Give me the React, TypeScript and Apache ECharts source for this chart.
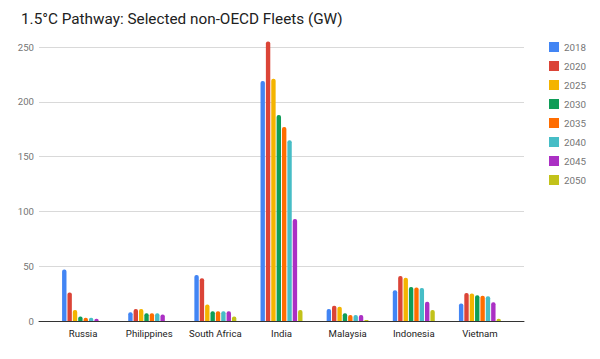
import React, { useEffect, useRef } from "react";
import * as echarts from "echarts";

const categories = ["Russia", "Philippines", "South Africa", "India", "Malaysia", "Indonesia", "Vietnam"];
const years = ["2018", "2020", "2025", "2030", "2035", "2040", "2045", "2050"];
const colors = ["#4285f4", "#db4437", "#f4b400", "#0f9d58", "#ff6d00", "#46bdc6", "#ab30c4", "#c2c21a"];

const v2018 = [47, 8, 42, 219, 11, 28, 16];
const v2020 = [26, 11, 39, 255, 14, 41, 25.5];
const v2025 = [10, 11, 15, 221, 13, 39.5, 25];
const v2030 = [4, 7, 9, 188, 7, 31, 23.5];
const v2035 = [3, 7, 9, 177, 5.5, 30.5, 23];
const v2040 = [3, 7, 9, 165, 5.5, 30, 22.5];
const v2045 = [2, 6, 9, 93, 5.5, 17.5, 17];
const v2050 = [0, 0, 4, 10, 1, 10, 2];
const seriesValues = [v2018, v2020, v2025, v2030, v2035, v2040, v2045, v2050];
const yTicks = { min: 0, max: 250, interval: 50 };

export default function App() {
  const ref = useRef<HTMLDivElement>(null);
  useEffect(() => {
    const chart = echarts.init(ref.current!, null, { renderer: "svg" });
    chart.setOption({
      animation: false,
      textStyle: { fontFamily: "Roboto" },
      title: {
        text: "1.5°C Pathway: Selected non-OECD Fleets (GW)",
        left: 16,
        top: 6,
        textStyle: { fontSize: 15.3, fontWeight: "normal", color: "#212121", fontFamily: "Roboto" },
      },
      legend: {
        orient: "vertical",
        left: 544,
        top: 37,
        itemWidth: 10,
        itemHeight: 10,
        itemGap: 9,
        icon: "rect",
        data: years,
        textStyle: { fontSize: 9.8, color: "#757575", fontFamily: "Roboto" },
      },
      grid: [
        { left: 39, right: 76, top: 47, bottom: 38 },
        { left: 50, right: 87, top: 47, bottom: 38 },
      ],
      xAxis: [
        {
          gridIndex: 0,
          type: "category",
          data: categories,
          axisLabel: { show: false },
          axisTick: { show: false },
          axisLine: { show: true, lineStyle: { color: "#333333", width: 1 } },
        },
        {
          gridIndex: 1,
          type: "category",
          data: categories,
          axisTick: { show: false },
          axisLine: { show: false },
          axisLabel: { color: "#222222", fontSize: 9.6, margin: 7, interval: 0, fontFamily: "Roboto" },
        },
      ],
      yAxis: [
        {
          gridIndex: 0,
          type: "value",
          min: yTicks.min,
          max: yTicks.max,
          interval: yTicks.interval,
          axisLine: { show: false },
          axisTick: { show: false },
          axisLabel: { color: "#757575", fontSize: 9.6, margin: 5, fontFamily: "Roboto" },
          splitLine: { lineStyle: { color: "#d9d9d9", width: 1 } },
        },
        {
          gridIndex: 1,
          type: "value",
          min: yTicks.min,
          max: yTicks.max,
          interval: yTicks.interval,
          show: false,
          splitLine: { show: false },
        },
      ],
      series: years.map((y, i) => ({
        name: y,
        type: "bar",
        xAxisIndex: 1,
        yAxisIndex: 1,
        data: seriesValues[i],
        barWidth: 4.4,
        barGap: "22%",
        clip: false,
        itemStyle: { color: colors[i], borderRadius: [2, 2, 0, 0] },
      })),
    });
    return () => chart.dispose();
  }, []);
  return (
    <div
      ref={ref}
      style={{ position: "fixed", left: 0, top: 0, width: 600, height: 359, background: "#fff" }}
    />
  );
}
